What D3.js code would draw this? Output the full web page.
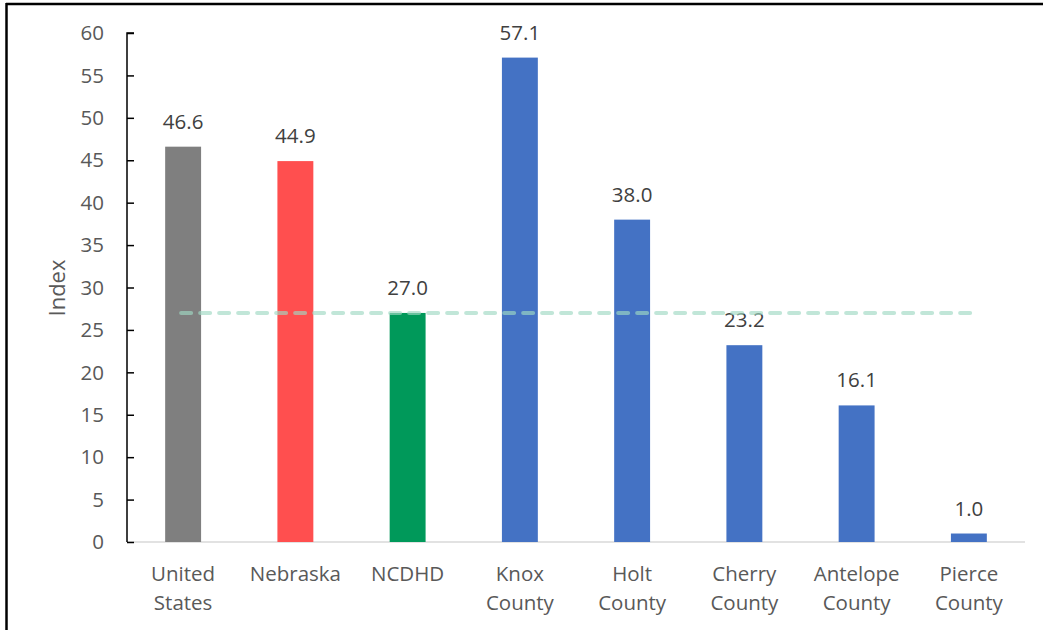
<!DOCTYPE html>
<html>
<head>
<meta charset="utf-8">
<script src="https://cdn.jsdelivr.net/npm/d3@7"></script>
<style>
  body { margin: 0; background: #fff; }
  text { font-family: "Open Sans", Lato, sans-serif; }
</style>
</head>
<body>
<svg id="chart" width="1043" height="630"></svg>
<script>
// chart data
const categories = [
  ['United', 'States'], ['Nebraska'], ['NCDHD'], ['Knox', 'County'],
  ['Holt', 'County'], ['Cherry', 'County'], ['Antelope', 'County'], ['Pierce', 'County']
]
const values = [46.6, 44.9, 27.0, 57.1, 38.0, 23.2, 16.1, 1.0]
const barColors = ['#7f7f7f', '#ff4f4f', '#00995a', '#4472c4', '#4472c4', '#4472c4', '#4472c4', '#4472c4']
const referenceValue = 27.0
const yTicks = [0, 5, 10, 15, 20, 25, 30, 35, 40, 45, 50, 55, 60]

const svg = d3.select('#chart')
const margin = { top: 33, right: 18, bottom: 88, left: 127 }
const width = 1043 - margin.left - margin.right
const height = 630 - margin.top - margin.bottom

// frame of the page (clipped figure box)
svg.append('line')
  .attr('x1', 6).attr('x2', 1043).attr('y1', 4).attr('y2', 4)
  .attr('stroke', '#000').attr('stroke-width', 2.5)
svg.append('line')
  .attr('x1', 6.5).attr('x2', 6.5).attr('y1', 3).attr('y2', 630)
  .attr('stroke', '#000').attr('stroke-width', 2.5)

const g = svg.append('g').attr('transform', `translate(${margin.left},${margin.top})`)

const x = d3.scaleBand()
  .domain(d3.range(categories.length))
  .range([0, width])
  .paddingInner(0.68)
  .paddingOuter(0.34)

const y = d3.scaleLinear().domain([0, 60]).range([height, 0])

// x axis baseline
g.append('line')
  .attr('x1', 0).attr('x2', width)
  .attr('y1', y(0)).attr('y2', y(0))
  .attr('stroke', '#d9d9d9').attr('stroke-width', 1.5)

// bars
g.selectAll('rect.bar')
  .data(values)
  .enter()
  .append('rect')
  .attr('class', 'bar')
  .attr('x', (d, i) => x(i))
  .attr('y', d => y(d))
  .attr('width', x.bandwidth())
  .attr('height', d => y(0) - y(d))
  .attr('fill', (d, i) => barColors[i])

// value labels
g.selectAll('text.value')
  .data(values)
  .enter()
  .append('text')
  .attr('class', 'value')
  .attr('x', (d, i) => x(i) + x.bandwidth() / 2)
  .attr('y', d => y(d) - 18)
  .attr('text-anchor', 'middle')
  .attr('font-size', 20.5)
  .attr('fill', '#404040')
  .text(d => d.toFixed(1))

// reference dashed line (NCDHD level)
const xc = i => x(i) + x.bandwidth() / 2
g.append('line')
  .attr('x1', xc(0) - 2).attr('x2', xc(categories.length - 1) + 2)
  .attr('y1', y(referenceValue)).attr('y2', y(referenceValue))
  .attr('stroke', '#9fd8c3')
  .attr('stroke-opacity', 0.65)
  .attr('stroke-width', 4)
  .attr('stroke-linecap', 'round')
  .attr('stroke-dasharray', '10 9')

// y axis with inward ticks
const yAxis = g.append('g')
  .call(d3.axisRight(y).tickValues(yTicks).tickSize(7).tickFormat(''))
yAxis.select('.domain').attr('d', `M7,0H0V${height}`).attr('stroke', '#000').attr('stroke-width', 1.5)
yAxis.selectAll('.tick line').attr('stroke', '#000').attr('stroke-width', 1.5)

g.selectAll('text.ytick')
  .data(yTicks)
  .enter()
  .append('text')
  .attr('class', 'ytick')
  .attr('x', -23)
  .attr('y', d => y(d))
  .attr('dy', '0.35em')
  .attr('text-anchor', 'end')
  .attr('font-size', 20.5)
  .attr('fill', '#595959')
  .text(d => d)

// category labels
const catText = g.selectAll('text.cat')
  .data(categories)
  .enter()
  .append('text')
  .attr('class', 'cat')
  .attr('text-anchor', 'middle')
  .attr('font-size', 20.5)
  .attr('fill', '#595959')
  .attr('transform', (d, i) => `translate(${xc(i)},${height + 39})`)
catText.selectAll('tspan')
  .data(d => d)
  .enter()
  .append('tspan')
  .attr('x', 0)
  .attr('dy', (d, j) => j === 0 ? 0 : 29)
  .text(d => d)

// axis title
svg.append('text')
  .attr('transform', 'translate(65,288) rotate(-90)')
  .attr('text-anchor', 'middle')
  .attr('font-size', 22)
  .attr('fill', '#595959')
  .text('Index')
</script>
</body>
</html>
